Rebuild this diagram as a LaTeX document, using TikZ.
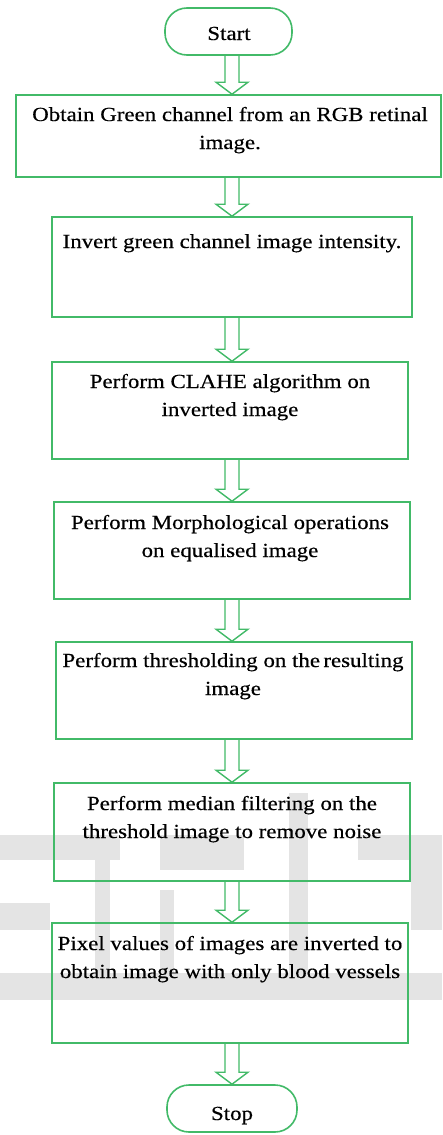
\documentclass[tikz,border=0pt]{standalone}
\usepackage{fontspec}
\setmainfont{Liberation Serif}[FakeStretch=1.145, FakeBold=0.4]
\usetikzlibrary{calc}
\definecolor{flowgreen}{RGB}{66,186,104}
\definecolor{markgray}{RGB}{228,228,228}

% hollow double-line block arrow between two named nodes, along the axis
\newcommand\hollowarrow[2]{%
  \draw[flow] ($(#1.south -| axis)+(-7,0)$) -- ($(#2.north -| axis)+(-7,-12)$)
    -- ($(#2.north -| axis)+(-16,-12)$) -- (#2.north -| axis)
    -- ($(#2.north -| axis)+(16,-12)$) -- ($(#2.north -| axis)+(7,-12)$)
    -- ($(#1.south -| axis)+(7,0)$);}

\begin{document}
\begin{tikzpicture}[x=1pt,y=-1pt,
  box/.style={draw=flowgreen, line width=1.6pt, inner sep=0pt, rectangle},
  term/.style={box, rounded corners=22pt},
  lbl/.style={anchor=base, align=center, inner sep=0pt,
    font=\fontsize{20}{28}\selectfont, text=black},
  flow/.style={draw=flowgreen, line width=1.4pt, line join=miter},
  wmark/.style={fill=markgray, draw=none}]

\useasboundingbox (0,0) rectangle (442,1135);
\fill[white] (0,0) rectangle (442,1135);

% faint background lettering
\fill[wmark] (0,835) rectangle (120,860);
\fill[wmark] (95,835) rectangle (110,1000);
\fill[wmark] (0,903) rectangle (50,930);
\fill[wmark] (0,973) rectangle (442,1000);
\fill[wmark] (160,835) rectangle (244,870);
\fill[wmark] (160,890) rectangle (174,1000);
\fill[wmark] (289,793) rectangle (308,1000);
\fill[wmark] (358,835) rectangle (442,860);
\fill[wmark] (411,835) rectangle (442,930);

\coordinate (axis) at (232,0);

% process boxes
\node[term, minimum width=127pt, minimum height=47pt] (start) at (228.5,31.5) {};
\node[box, minimum width=425pt, minimum height=82pt]  (b1) at (228.5,136) {};
\node[box, minimum width=360pt, minimum height=100pt] (b2) at (232,267) {};
\node[box, minimum width=356pt, minimum height=97pt]  (b3) at (230,410.5) {};
\node[box, minimum width=356pt, minimum height=97pt]  (b4) at (232,550.5) {};
\node[box, minimum width=356pt, minimum height=97pt]  (b5) at (234,690.5) {};
\node[box, minimum width=356pt, minimum height=98pt]  (b6) at (232,832) {};
\node[box, minimum width=356pt, minimum height=120pt] (b7) at (230,983) {};
\node[term, minimum width=130pt, minimum height=47pt] (stop) at (232,1108.5) {};

% texts (base anchor sits on the last line)
\node[lbl] (tstart) at (229,40) {Start};
\node[lbl] (t1) at (230,149) {Obtain Green channel from an RGB retinal\\image.};
\node[lbl] (t2) at (232,248) {Invert green channel image intensity.};
\node[lbl] (t3) at (230,416) {Perform CLAHE algorithm on\\inverted image};
\node[lbl] (t4) at (230,557) {Perform Morphological operations\\on equalised image};
\node[lbl] (t5) at (233,695) {Perform thresholding on the\,resulting\\image};
\node[lbl] (t6) at (232,838) {Perform median filtering on the\\threshold image to remove noise};
\node[lbl] (t7) at (230,978) {Pixel values of images are inverted to\\obtain image with only blood vessels};
\node[lbl] (tstop) at (232,1120) {Stop};

% connectors
\hollowarrow{start}{b1}
\hollowarrow{b1}{b2}
\hollowarrow{b2}{b3}
\hollowarrow{b3}{b4}
\hollowarrow{b4}{b5}
\hollowarrow{b5}{b6}
\hollowarrow{b6}{b7}
\hollowarrow{b7}{stop}
\end{tikzpicture}
\end{document}
